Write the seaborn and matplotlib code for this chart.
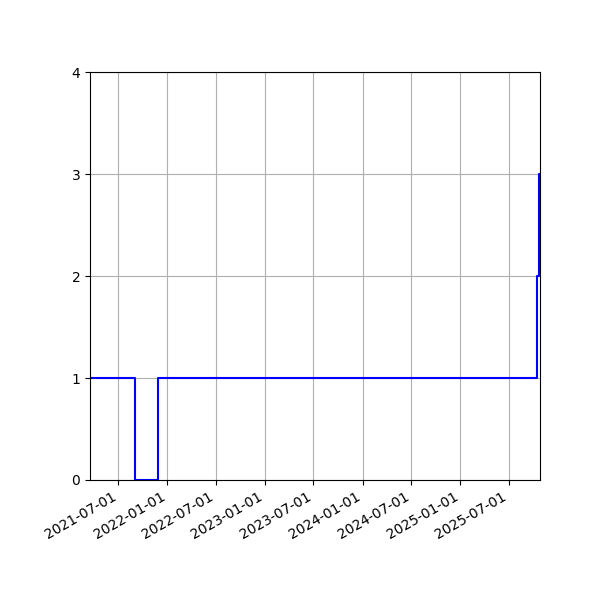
import matplotlib
matplotlib.use("Agg")
import matplotlib.pyplot as plt
import matplotlib.dates as mdates
import seaborn as sns
import pandas as pd

# step series
dates = ["2021-03-17", "2021-09-01", "2021-11-25", "2025-10-15", "2025-10-22", "2025-10-26"]
counts = [1, 0, 1, 2, 3, 3]

df = pd.DataFrame({"date": pd.to_datetime(dates), "count": counts})

fig, ax = plt.subplots(figsize=(6, 6), dpi=100)
sns.lineplot(data=df, x="date", y="count", ax=ax, color="blue",
             drawstyle="steps-post", linewidth=1.5)

ax.set_xlim(df["date"].min(), df["date"].max())
ax.set_ylim(0, 4)
ax.set_yticks([0, 1, 2, 3, 4])
ax.xaxis.set_major_locator(mdates.MonthLocator(bymonth=[1, 7]))
ax.xaxis.set_major_formatter(mdates.DateFormatter("%Y-%m-%d"))
ax.set_xlabel("")
ax.set_ylabel("")
ax.grid(True)
fig.autofmt_xdate()
fig.subplots_adjust(left=0.15, right=0.9, top=0.88, bottom=0.2)

plt.savefig("out.png")
plt.close()
